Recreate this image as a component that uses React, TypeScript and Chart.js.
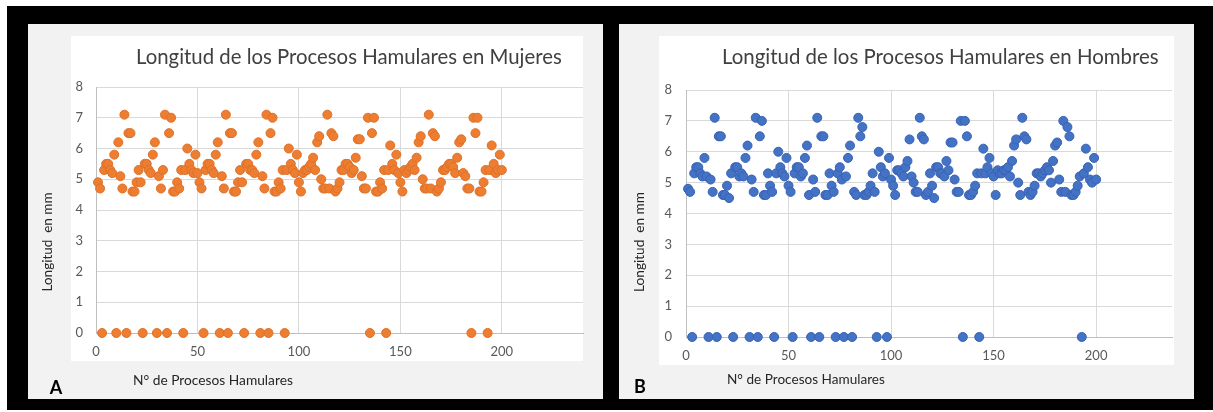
import React, { useEffect, useRef } from "react";
import { Chart, registerables } from "chart.js";

Chart.register(...registerables);

// ---------- Text ----------
const TITLE_MUJERES = "Longitud de los Procesos Hamulares en Mujeres";
const TITLE_HOMBRES = "Longitud de los Procesos Hamulares en Hombres";
const Y_AXIS_TITLE = "Longitud  en mm";
const X_AXIS_TITLE = "N° de Procesos Hamulares";

// ---------- Axes ----------
const X_TICK_STEP = 50;
const Y_MIN = 0;
const Y_MAX = 8;
const Y_TICK_STEP = 1;

// ---------- Data (longitud en mm por N° de proceso hamular) ----------
const MUJERES: number[] = [
  4.9, 4.7, 0, 5.3, 5.5, 5.5, 5.3, 5.2, 5.8, 0,
  6.2, 5.1, 4.7, 7.1, 0, 6.5, 6.5, 4.6, 4.6, 4.9,
  5.3, 4.9, 0, 5.5, 5.5, 5.3, 5.2, 5.8, 6.2, 0,
  5.1, 4.7, 5.3, 7.1, 0, 6.5, 7.0, 4.6, 4.6, 4.9,
  4.7, 5.3, 0, 5.3, 6.0, 5.5, 5.3, 5.2, 5.8, 5.2,
  4.9, 4.7, 0, 5.3, 5.5, 5.5, 5.3, 5.2, 5.8, 6.2,
  0, 5.1, 4.7, 7.1, 0, 6.5, 6.5, 4.6, 4.6, 4.9,
  5.3, 4.9, 0, 5.5, 5.5, 5.3, 5.3, 5.2, 5.8, 6.2,
  0, 5.1, 4.7, 7.1, 0, 6.5, 7.0, 4.6, 4.6, 4.9,
  4.7, 5.3, 0, 5.3, 6.0, 5.5, 5.3, 5.2, 5.8, 4.9,
  4.6, 5.2, 5.3, 5.3, 5.4, 5.5, 5.7, 5.3, 6.2, 6.4,
  5.0, 4.7, 4.7, 7.1, 4.7, 6.5, 6.4, 4.6, 4.7, 4.9,
  5.3, 5.3, 5.5, 5.5, 5.4, 5.2, 5.3, 5.7, 6.3, 6.3,
  5.1, 4.7, 4.7, 7.0, 0, 6.5, 7.0, 4.6, 4.6, 4.9,
  4.7, 5.3, 0, 5.3, 6.1, 5.5, 5.3, 5.8, 5.2, 4.9,
  4.6, 5.3, 5.2, 5.3, 5.4, 5.5, 5.3, 5.7, 6.2, 6.4,
  5.0, 4.7, 4.7, 7.1, 4.7, 6.5, 6.4, 4.6, 4.7, 4.9,
  5.3, 5.3, 5.4, 5.5, 5.5, 5.4, 5.2, 5.7, 6.2, 6.3,
  5.2, 5.1, 4.7, 4.7, 0, 7.0, 6.5, 7.0, 4.6, 4.6,
  4.9, 5.3, 0, 5.3, 6.1, 5.5, 5.2, 5.3, 5.8, 5.3,
];

const HOMBRES: number[] = [
  4.8, 4.7, 0, 5.3, 5.5, 5.5, 5.3, 5.2, 5.8, 5.2,
  0, 5.1, 4.7, 7.1, 0, 6.5, 6.5, 4.6, 4.6, 4.9,
  4.5, 5.3, 0, 5.5, 5.5, 5.2, 5.3, 5.2, 5.8, 6.2,
  0, 5.1, 4.7, 7.1, 0, 6.5, 7.0, 4.6, 4.6, 5.3,
  4.9, 4.7, 0, 5.3, 6.0, 5.5, 5.3, 5.2, 5.8, 4.9,
  4.7, 0, 5.3, 5.5, 5.5, 5.2, 5.3, 5.8, 6.2, 4.6,
  0, 5.1, 4.7, 7.1, 0, 6.5, 6.5, 4.6, 4.6, 5.3,
  4.9, 4.7, 0, 5.3, 5.5, 5.1, 0, 5.2, 5.8, 6.2,
  0, 4.7, 4.6, 7.1, 6.5, 6.8, 4.6, 4.6, 4.7, 4.9,
  5.3, 4.7, 0, 6.0, 5.5, 5.2, 5.3, 0, 5.8, 5.1,
  4.9, 4.6, 5.4, 5.4, 5.3, 5.2, 5.5, 5.7, 6.4, 5.2,
  5.0, 4.7, 4.7, 7.1, 6.5, 6.4, 4.6, 4.7, 5.3, 4.9,
  4.5, 5.5, 5.5, 5.3, 5.3, 5.2, 5.7, 5.4, 6.3, 6.3,
  5.1, 4.7, 4.7, 7.0, 0, 7.0, 6.5, 4.6, 4.6, 4.7,
  4.9, 5.3, 0, 5.3, 6.1, 5.3, 5.5, 5.8, 5.3, 5.2,
  4.6, 5.4, 5.3, 5.3, 5.4, 5.4, 5.5, 5.2, 5.7, 6.2,
  6.4, 5.0, 4.6, 7.1, 6.5, 6.4, 4.7, 4.6, 4.7, 4.9,
  5.3, 5.3, 5.2, 5.3, 5.4, 5.5, 5.4, 5.0, 5.7, 6.2,
  6.3, 5.1, 4.7, 7.0, 4.7, 6.8, 6.5, 4.6, 4.6, 4.7,
  4.9, 5.2, 0, 5.3, 6.1, 5.5, 5.1, 5.0, 5.8, 5.1,
];

// N° de proceso hamular (1..n), the x value of each measurement
const numerosDeProceso = (n: number) => Array.from({ length: n }, (_, i) => i + 1);

// ---------- Layout / style ----------
const FONT = "Lato";
const TICK_COLOR = "#595959";
const TITLE_COLOR = "#404040";
const AXIS_TITLE_COLOR = "#262626";
const GRID_COLOR = "#d9d9d9";
const AXIS_COLOR = "#bfbfbf";

type PanelCfg = {
  left: number;
  top: number;
  width: number;
  height: number;
  inner: { x0: number; y0: number; x1: number; y1: number };
  area: { left: number; top: number; right: number; bottom: number };
  xMax: number;
  yTickPad: number;
  xTickPad: number;
  title: { text: string; x0: number; x1: number; baseline: number };
  yTitle: { cx: number; cy: number; len: number };
  xTitle: { x0: number; x1: number; cy: number };
  letter: { text: string; cx: number; cy: number };
  label: string;
  values: number[];
  fill: string;
  stroke: string;
};

const PANEL_A: PanelCfg = {
  left: 28,
  top: 24,
  width: 575,
  height: 375,
  inner: { x0: 43, y0: 12, x1: 555, y1: 337 },
  area: { left: 68, top: 63, right: 555, bottom: 309 },
  xMax: 240,
  yTickPad: 13,
  xTickPad: 11,
  title: { text: TITLE_MUJERES, x0: 108, x1: 534, baseline: 40 },
  yTitle: { cx: 20, cy: 218, len: 99 },
  xTitle: { x0: 105, x1: 265, cy: 357 },
  letter: { text: "A", cx: 28, cy: 364 },
  label: "Mujeres",
  values: MUJERES,
  fill: "#ED7D31",
  stroke: "#E07128",
};

const PANEL_B: PanelCfg = {
  left: 619,
  top: 24,
  width: 575,
  height: 375,
  inner: { x0: 40, y0: 12, x1: 555, y1: 341 },
  area: { left: 67, top: 66, right: 553, bottom: 313 },
  xMax: 237,
  yTickPad: 14,
  xTickPad: 11,
  title: { text: TITLE_HOMBRES, x0: 103, x1: 540, baseline: 40 },
  yTitle: { cx: 21, cy: 218, len: 100 },
  xTitle: { x0: 108, x1: 266, cy: 356 },
  letter: { text: "B", cx: 21, cy: 363 },
  label: "Hombres",
  values: HOMBRES,
  fill: "#4472C4",
  stroke: "#3863B5",
};

function fitSize(ctx: CanvasRenderingContext2D, text: string, weight: string, width: number) {
  ctx.font = `${weight} 100px "${FONT}"`;
  const w = ctx.measureText(text).width;
  return (100 * width) / w;
}

function ScatterPanel({ cfg }: { cfg: PanelCfg }) {
  const ref = useRef<HTMLCanvasElement>(null);

  useEffect(() => {
    const canvas = ref.current;
    if (!canvas) return;

    const decor = {
      id: "panelDecor",
      beforeDraw(chart: any) {
        const ctx: CanvasRenderingContext2D = chart.ctx;
        ctx.save();
        ctx.fillStyle = "#f2f2f2";
        ctx.fillRect(0, 0, cfg.width, cfg.height);
        ctx.fillStyle = "#ffffff";
        ctx.fillRect(cfg.inner.x0, cfg.inner.y0, cfg.inner.x1 - cfg.inner.x0, cfg.inner.y1 - cfg.inner.y0);
        ctx.restore();
      },
      afterDraw(chart: any) {
        const ctx: CanvasRenderingContext2D = chart.ctx;
        ctx.save();
        // chart title
        const t = cfg.title;
        const ts = fitSize(ctx, t.text, "400", t.x1 - t.x0);
        ctx.font = `400 ${ts}px "${FONT}"`;
        ctx.fillStyle = TITLE_COLOR;
        ctx.textAlign = "left";
        ctx.textBaseline = "alphabetic";
        ctx.fillText(t.text, t.x0, t.baseline);

        // y axis title
        const yt = cfg.yTitle;
        const ys = fitSize(ctx, Y_AXIS_TITLE, "400", yt.len);
        ctx.save();
        ctx.translate(yt.cx, yt.cy);
        ctx.rotate(-Math.PI / 2);
        ctx.font = `400 ${ys}px "${FONT}"`;
        ctx.fillStyle = AXIS_TITLE_COLOR;
        ctx.textAlign = "center";
        ctx.textBaseline = "middle";
        ctx.fillText(Y_AXIS_TITLE, 0, 0);
        ctx.restore();

        // x axis title
        const xt = cfg.xTitle;
        const xs = fitSize(ctx, X_AXIS_TITLE, "400", xt.x1 - xt.x0);
        ctx.font = `400 ${xs}px "${FONT}"`;
        ctx.fillStyle = AXIS_TITLE_COLOR;
        ctx.textAlign = "left";
        ctx.textBaseline = "middle";
        ctx.fillText(X_AXIS_TITLE, xt.x0, xt.cy);

        // panel letter
        ctx.font = `700 18px "${FONT}"`;
        ctx.fillStyle = "#000000";
        ctx.textAlign = "center";
        ctx.textBaseline = "middle";
        ctx.fillText(cfg.letter.text, cfg.letter.cx, cfg.letter.cy);
        ctx.restore();
      },
    };

    const xs = numerosDeProceso(cfg.values.length);
    const chart = new Chart(canvas, {
      type: "scatter",
      data: {
        datasets: [
          {
            label: cfg.label,
            data: cfg.values.map((v, i) => ({ x: xs[i], y: v })),
            backgroundColor: cfg.fill,
            borderColor: cfg.stroke,
            borderWidth: 1,
            pointRadius: 4.5,
            pointHoverRadius: 4.5,
            clip: false,
          } as any,
        ],
      },
      options: {
        animation: false,
        responsive: false,
        devicePixelRatio: 1,
        events: [],
        layout: {
          padding: { left: 0, top: cfg.area.top, right: cfg.width - cfg.area.right, bottom: 0 },
        },
        plugins: {
          legend: { display: false },
          tooltip: { enabled: false },
          title: { display: false },
        },
        scales: {
          x: {
            type: "linear",
            position: "bottom",
            min: 0,
            max: cfg.xMax,
            afterFit: (s: any) => {
              s.height = cfg.height - cfg.area.bottom;
            },
            ticks: {
              stepSize: X_TICK_STEP,
              includeBounds: false,
              color: TICK_COLOR,
              font: { family: FONT, size: 13 },
              padding: cfg.xTickPad,
              maxRotation: 0,
            },
            grid: { color: GRID_COLOR, lineWidth: 1, drawTicks: false },
            border: { color: AXIS_COLOR, width: 1 },
          },
          y: {
            type: "linear",
            min: Y_MIN,
            max: Y_MAX,
            afterFit: (s: any) => {
              s.width = cfg.area.left;
            },
            ticks: {
              stepSize: Y_TICK_STEP,
              color: TICK_COLOR,
              font: { family: FONT, size: 13 },
              padding: cfg.yTickPad,
            },
            grid: { color: GRID_COLOR, lineWidth: 1, drawTicks: false },
            border: { color: AXIS_COLOR, width: 1 },
          },
        },
      } as any,
      plugins: [decor],
    });
    return () => chart.destroy();
  }, [cfg]);

  return (
    <canvas
      ref={ref}
      width={cfg.width}
      height={cfg.height}
      style={{ position: "absolute", left: cfg.left, top: cfg.top, width: cfg.width, height: cfg.height }}
    />
  );
}

export default function App() {
  return (
    <div style={{ position: "absolute", left: 0, top: 0, width: 1213, height: 412, background: "#ffffff", overflow: "hidden" }}>
      <div style={{ position: "absolute", left: 7, top: 6, width: 1206, height: 404, background: "#000000" }} />
      <ScatterPanel cfg={PANEL_A} />
      <ScatterPanel cfg={PANEL_B} />
    </div>
  );
}
